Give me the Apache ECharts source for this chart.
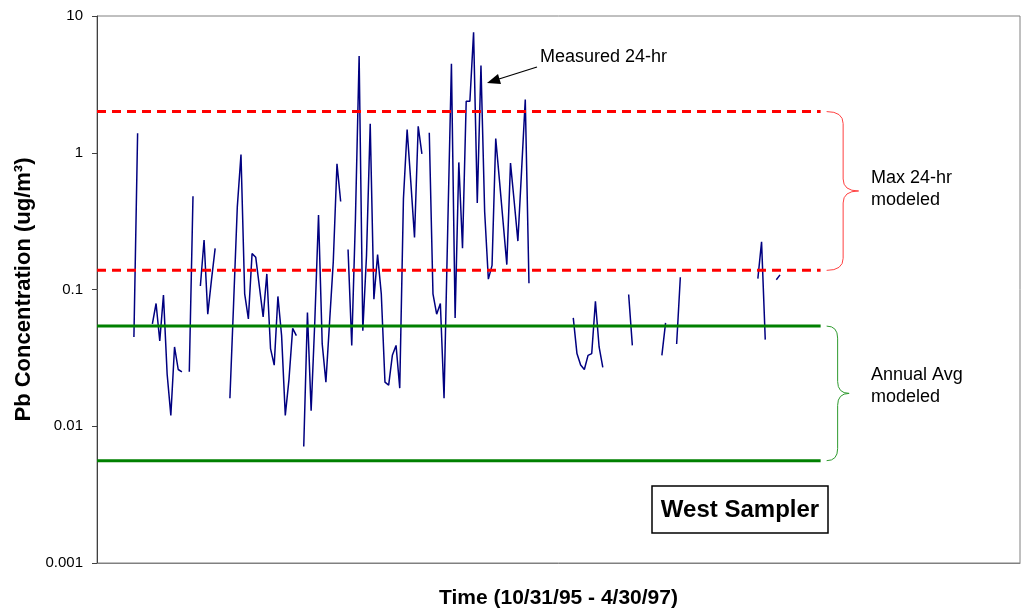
<!DOCTYPE html>
<html lang="en">
<head>
<meta charset="UTF-8">
<script src="https://cdn.jsdelivr.net/npm/echarts@6/dist/echarts.min.js"></script>
<title>West Sampler</title>
<style>
    html, body { margin: 0; padding: 0; background: #fff; }
    #main { width: 1025px; height: 609px; }
</style>
</head>
<body>
<div id="main"></div>
<script type="text/javascript">
    var FONT = '"Liberation Sans", Arial, sans-serif';

    // measured 24-hr Pb (ug/m3): each run starts at a sample index, gaps between runs are missing samples
    var runStart = [0, 5, 15, 18, 26, 46, 58, 80, 119, 134, 143, 147, 169, 174];
    var runValues = [
        [0.045, 1.39],
        [0.056, 0.079, 0.042, 0.091, 0.024, 0.012, 0.038, 0.026, 0.025],
        [0.025, 0.48],
        [0.106, 0.23, 0.066, 0.117, 0.20],
        [0.016, 0.079, 0.40, 0.97, 0.093, 0.061, 0.183, 0.172, 0.104, 0.063, 0.130, 0.037, 0.028, 0.089, 0.046, 0.012, 0.022, 0.052, 0.046],
        [0.0071, 0.068, 0.013, 0.059, 0.35, 0.040, 0.021, 0.058, 0.16, 0.83, 0.44],
        [0.196, 0.039, 0.33, 5.1, 0.050, 0.178, 1.63, 0.085, 0.18, 0.093, 0.021, 0.020, 0.033, 0.039, 0.019, 0.46, 1.48, 0.61, 0.24, 1.56, 0.98],
        [1.40, 0.093, 0.066, 0.079, 0.016, 0.28, 4.48, 0.062, 0.85, 0.20, 2.38, 2.38, 7.6, 0.43, 4.34, 0.37, 0.119, 0.150, 1.27, 0.63, 0.31, 0.152, 0.84, 0.44, 0.226, 0.74, 2.45, 0.111],
        [0.062, 0.034, 0.028, 0.026, 0.033, 0.034, 0.082, 0.038, 0.027],
        [0.092, 0.039],
        [0.033, 0.057],
        [0.040, 0.123],
        [0.120, 0.223, 0.043],
        [0.118, 0.128]
    ];

    // modeled ranges (ug/m3)
    var maxModeled = [2.0, 0.138];
    var annualModeled = [0.054, 0.0056];
    var xMin = -10, xMax = 240, lineEndIdx = 186;

    var measured = [];
    for (var k = 0; k < runStart.length; k++) {
        for (var i = 0; i < runValues[k].length; i++) {
            measured.push([runStart[k] + i, runValues[k][i]]);
        }
        measured.push([runStart[k] + runValues[k].length, '-']);
    }

    function hLine(v, color, type) {
        return {
            type: 'line',
            data: [[xMin, v], [lineEndIdx, v]],
            symbol: 'none',
            silent: true,
            lineStyle: { color: color, width: 3, type: type }
        };
    }

    var s = [{
        type: 'line',
        data: measured,
        symbol: 'none',
        connectNulls: false,
        lineStyle: { color: '#000080', width: 1.5 }
    }];
    maxModeled.forEach(function (v) { s.push(hLine(v, '#ff0000', [9, 6])); });
    annualModeled.forEach(function (v) { s.push(hLine(v, '#008000', 'solid')); });

    var myChart = echarts.init(document.getElementById('main'));
    myChart.setOption({
        animation: false,
        grid: {
            left: 97, top: 16, right: 5, bottom: 46, outerBoundsMode: 'none',
            show: true, borderColor: '#808080', borderWidth: 1
        },
        xAxis: {
            type: 'value', min: xMin, max: xMax,
            axisLine: { show: true, onZero: false, lineStyle: { color: '#808080' } },
            axisTick: { show: false },
            axisLabel: { show: false },
            splitLine: { show: false },
            name: 'Time (10/31/95 - 4/30/97)',
            nameLocation: 'middle',
            nameGap: 25,
            nameTextStyle: { fontFamily: FONT, fontSize: 21, fontWeight: 'bold', color: '#000' }
        },
        yAxis: {
            type: 'log', logBase: 10, min: 0.001, max: 10,
            axisLine: { show: true, onZero: false, lineStyle: { color: '#404040' } },
            axisTick: { show: true, length: 5, lineStyle: { color: '#404040' } },
            minorTick: { show: false },
            splitLine: { show: false },
            axisLabel: {
                fontFamily: FONT, fontSize: 15, color: '#000', margin: 14,
                formatter: function (v) { return String(parseFloat(Number(v).toPrecision(3))); }
            },
            name: 'Pb Concentration (ug/m³)',
            nameLocation: 'middle',
            nameRotate: 90,
            nameGap: 62,
            nameTextStyle: { fontFamily: FONT, fontSize: 22, fontWeight: 'bold', color: '#000' }
        },
        series: s
    });

    // braces and annotations
    function py(v) { return myChart.convertToPixel({ yAxisIndex: 0 }, v); }
    var xEnd = myChart.convertToPixel({ xAxisIndex: 0 }, lineEndIdx);

    function brace(yTop, yBot, xL, xM, xTip, color) {
        var r = 12, ym = (yTop + yBot) / 2;
        var st = { stroke: color, lineWidth: 1, fill: null };
        function q(x1, y1, cx, cy, x2, y2) {
            return { type: 'bezierCurve', shape: { x1: x1, y1: y1, cpx1: cx, cpy1: cy, x2: x2, y2: y2 }, style: st };
        }
        function l(x1, y1, x2, y2) {
            return { type: 'line', shape: { x1: x1, y1: y1, x2: x2, y2: y2 }, style: st };
        }
        return {
            type: 'group', z: 10,
            children: [
                q(xL, yTop, xM, yTop, xM, yTop + r),
                l(xM, yTop + r, xM, ym - r),
                q(xM, ym - r, xM, ym, xTip, ym),
                q(xTip, ym, xM, ym, xM, ym + r),
                l(xM, ym + r, xM, yBot - r),
                q(xM, yBot - r, xM, yBot, xL, yBot)
            ]
        };
    }

    var rTop = py(maxModeled[0]), rBot = py(maxModeled[1]);
    var gTop = py(annualModeled[0]), gBot = py(annualModeled[1]);
    var bx = xEnd + 6;

    myChart.setOption({
        graphic: [
            brace(rTop, rBot, bx, bx + 16.5, bx + 32, '#ff4040'),
            brace(gTop, gBot, bx, bx + 11, bx + 22.5, '#2e9a2e'),
            {
                type: 'text', z: 10,
                style: { text: 'Max 24-hr\nmodeled', x: 871, y: (rTop + rBot) / 2 - 2, font: '18px ' + FONT, fill: '#000', verticalAlign: 'middle', lineHeight: 22 }
            },
            {
                type: 'text', z: 10,
                style: { text: 'Annual Avg\nmodeled', x: 871, y: (gTop + gBot) / 2 - 7, font: '18px ' + FONT, fill: '#000', verticalAlign: 'middle', lineHeight: 22 }
            },
            {
                type: 'text', z: 10,
                style: { text: 'Measured 24-hr', x: 540, y: 57, font: '18px ' + FONT, fill: '#000', verticalAlign: 'middle' }
            },
            { type: 'line', z: 10, shape: { x1: 537, y1: 67, x2: 499, y2: 79 }, style: { stroke: '#000', lineWidth: 1.3 } },
            { type: 'polygon', z: 10, shape: { points: [[487, 83], [501, 84], [498, 74]] }, style: { fill: '#000' } },
            { type: 'rect', z: 10, shape: { x: 652, y: 486, width: 176, height: 47 }, style: { fill: '#fff', stroke: '#000', lineWidth: 1.5 } },
            {
                type: 'text', z: 11,
                style: { text: 'West Sampler', x: 740, y: 510, font: 'bold 24px ' + FONT, fill: '#000', align: 'center', verticalAlign: 'middle' }
            }
        ]
    });
</script>
</body>
</html>
